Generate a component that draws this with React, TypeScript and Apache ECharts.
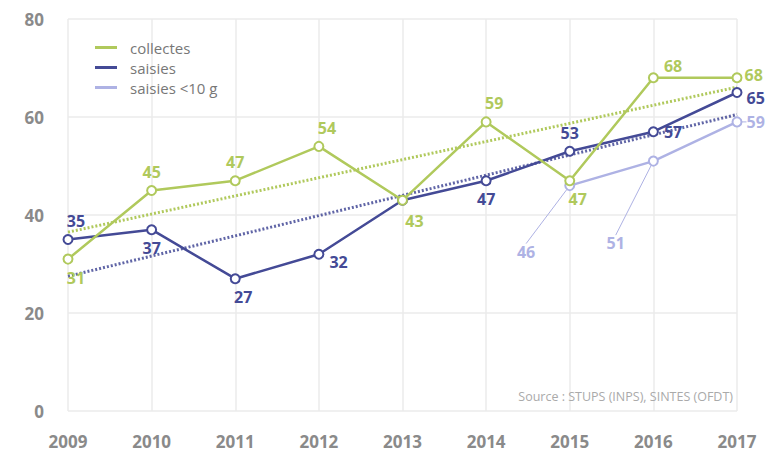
import React, { useEffect, useRef } from "react";
import * as echarts from "echarts";

const years = ["2009", "2010", "2011", "2012", "2013", "2014", "2015", "2016", "2017"];
const collectes = [31, 45, 47, 54, 43, 59, 47, 68, 68];
const saisies = [35, 37, 27, 32, 43, 47, 53, 57, 65];
const saisiesSmall = [null, null, null, null, null, null, 46, 51, 59];
const trendCollectes = [36.5, 66.1];
const trendSaisies = [27.5, 60.5];
const yTicks = [0, 20, 40, 60, 80];

const GREEN = "#b0c95c";
const BLUE = "#444a96";
const LILAC = "#aeb2e4";
const FONT = '"Open Sans", "Noto Sans", sans-serif';

const greenLabels: any[] = [
  { position: "bottom", offset: [8, 0] },
  { position: "top" },
  { position: "top" },
  { position: "top", offset: [8, 0] },
  { position: "bottom", offset: [12, 2] },
  { position: "top", offset: [8, 0] },
  { position: "bottom", offset: [8, 0] },
  { position: "right", offset: [0, -12] },
  { position: "right", distance: 2, offset: [0, -3] },
];
const blueLabels: any[] = [
  { position: "top", offset: [8, 0] },
  { position: "bottom" },
  { position: "bottom", offset: [8, 0] },
  { position: "right", offset: [0, 8] },
  { show: false },
  { position: "bottom" },
  { position: "top" },
  { position: "right" },
  { position: "right", distance: 4, offset: [0, 5] },
];
const lilacLabels: any[] = [
  null, null, null, null, null, null,
  { position: "left" },
  { position: "left" },
  { position: "right", distance: 4, offset: [0, 3] },
];

export default function App() {
  const ref = useRef<HTMLDivElement>(null);
  useEffect(() => {
    if (!ref.current) return;
    const chart = echarts.init(ref.current, null, { renderer: "svg" });
    const labelBase = { show: true, fontFamily: FONT, fontWeight: "bold", fontSize: 16 };
    const mk = (vals: (number | null)[], labels: any[], color: string) =>
      vals.map((v, i) => ({
        value: v,
        label: { ...labelBase, color, ...(labels[i] || {}) },
      }));
    chart.setOption({
      animation: false,
      backgroundColor: "#ffffff",
      grid: { left: 68, right: 40, top: 19, bottom: 48 },
      legend: {
        orient: "vertical",
        left: 90,
        top: 35,
        itemWidth: 22,
        itemHeight: 3,
        itemGap: 5,
        icon: "rect",
        textStyle: { color: "#777", fontSize: 15, fontFamily: FONT, padding: [0, 0, 0, 8] },
        data: ["collectes", "saisies", "saisies <10 g"],
      },
      xAxis: {
        type: "category",
        data: years,
        boundaryGap: false,
        axisLine: { show: false },
        axisTick: { show: false },
        splitLine: { show: true, lineStyle: { color: "#ebebeb", width: 1.5 } },
        axisLabel: { color: "#8a8a8a", fontSize: 17, fontWeight: "bold", margin: 22, fontFamily: FONT },
      },
      yAxis: {
        type: "value",
        min: yTicks[0],
        max: yTicks[yTicks.length - 1],
        interval: 20,
        axisLine: { show: false },
        axisTick: { show: false },
        splitLine: { lineStyle: { color: "#ebebeb", width: 1.5 } },
        axisLabel: { color: "#8a8a8a", fontSize: 17, fontWeight: "bold", margin: 24, fontFamily: FONT },
      },
      graphic: [
        {
          type: "text",
          right: 44,
          bottom: 56,
          z: 10,
          style: { text: "Source : STUPS (INPS), SINTES (OFDT)", fill: "#aaa", fontSize: 12.5, fontFamily: FONT },
        },
      ],
      series: [
        {
          name: "trendC",
          type: "line",
          data: [[years[0], trendCollectes[0]], [years[years.length - 1], trendCollectes[1]]],
          symbol: "none",
          silent: true,
          lineStyle: { color: GREEN, width: 3, type: [2, 2] },
          z: 1,
        },
        {
          name: "trendS",
          type: "line",
          data: [[years[0], trendSaisies[0]], [years[years.length - 1], trendSaisies[1]]],
          symbol: "none",
          silent: true,
          lineStyle: { color: BLUE, width: 3, type: [2, 2], opacity: 0.85 },
          z: 1,
        },
        {
          name: "saisies <10 g",
          type: "line",
          data: mk(saisiesSmall, lilacLabels, LILAC),
          color: LILAC,
          symbol: "emptyCircle",
          symbolSize: 9,
          itemStyle: { borderWidth: 3 },
          lineStyle: { width: 2.5 },
          labelLine: { show: true, lineStyle: { color: LILAC, width: 1 } },
          labelLayout: (p: any) => {
            if (p.dataIndex === 6) return { dx: -24, dy: 66 };
            if (p.dataIndex === 7) return { dx: -18, dy: 82 };
            return {};
          },
          z: 2,
        },
        {
          name: "saisies",
          type: "line",
          data: mk(saisies, blueLabels, BLUE),
          color: BLUE,
          symbol: "emptyCircle",
          symbolSize: 9,
          itemStyle: { borderWidth: 3 },
          lineStyle: { width: 2.5 },
          z: 3,
        },
        {
          name: "collectes",
          type: "line",
          data: mk(collectes, greenLabels, GREEN),
          color: GREEN,
          symbol: "emptyCircle",
          symbolSize: 9,
          itemStyle: { borderWidth: 3 },
          lineStyle: { width: 2.5 },
          z: 4,
        },
      ],
    });
    return () => chart.dispose();
  }, []);
  return <div ref={ref} style={{ position: "fixed", left: 0, top: 0, width: 777, height: 459 }} />;
}
